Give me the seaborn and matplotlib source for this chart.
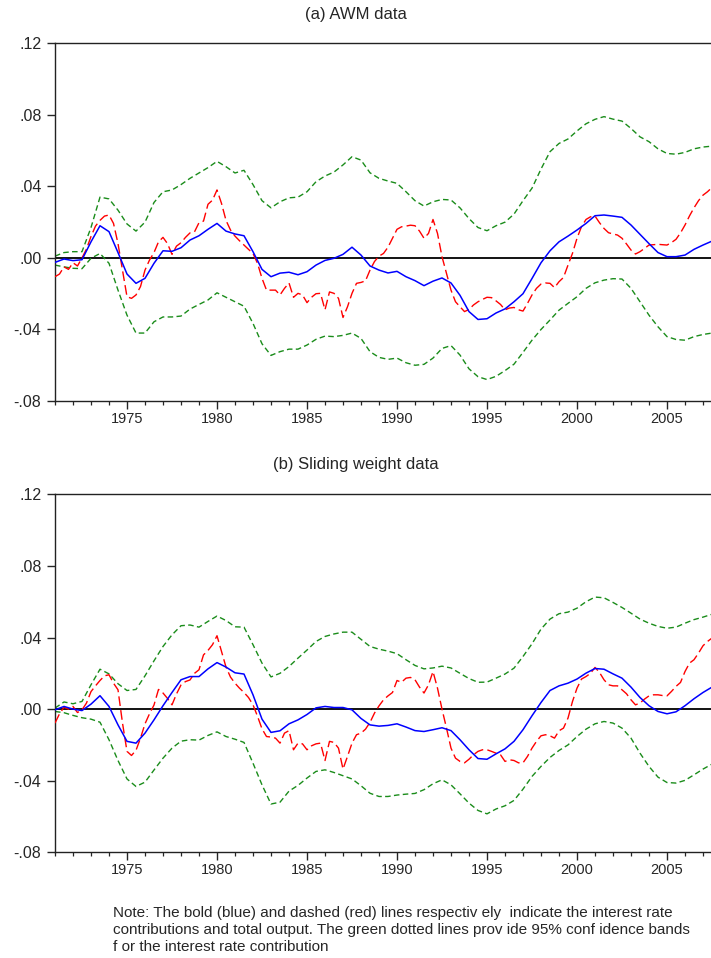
import numpy as np
import pandas as pd
import matplotlib
matplotlib.use("Agg")
import matplotlib.pyplot as plt
import seaborn as sns
from matplotlib.ticker import MultipleLocator, FuncFormatter

# --- Datos ---
# series suaves: cada medio ano 1971.0 .. 2007.5 ; producto total: trimestral 1971Q1 .. 2007Q4
half_years = np.arange(1971, 2007.75, 0.5)
quarters = np.arange(1971, 2008, 0.25)

# (a) AWM data
awm_upper = [
    0.001, 0.003, 0.0035, 0.0035, 0.017, 0.034, 0.033, 0.0267, 0.019, 0.015,
    0.020, 0.031, 0.037, 0.038, 0.041, 0.0445, 0.0475, 0.0505, 0.054, 0.051,
    0.0475, 0.049, 0.041, 0.032, 0.028, 0.0314, 0.0336, 0.034, 0.037, 0.0426,
    0.0458, 0.048, 0.052, 0.0566, 0.0547, 0.0476, 0.0445, 0.043, 0.0417, 0.037,
    0.032, 0.029, 0.0314, 0.0327, 0.0324, 0.028, 0.022, 0.017, 0.0152, 0.018,
    0.020, 0.0245, 0.032, 0.039, 0.0497, 0.0594, 0.064, 0.0665, 0.071, 0.075,
    0.0775, 0.079, 0.0776, 0.0765, 0.0724, 0.0677, 0.065, 0.061, 0.0584, 0.058,
    0.059, 0.061, 0.062, 0.0625,
]
awm_lower = [
    -0.004, -0.005, -0.0058, -0.006, -0.0002, 0.0025, -0.003, -0.018, -0.032, -0.042,
    -0.042, -0.0357, -0.033, -0.033, -0.0325, -0.0286, -0.026, -0.0235, -0.0195, -0.022,
    -0.0245, -0.027, -0.0366, -0.048, -0.0545, -0.0524, -0.051, -0.051, -0.0487, -0.0455,
    -0.0437, -0.044, -0.0433, -0.042, -0.045, -0.0524, -0.0556, -0.0567, -0.056, -0.0586,
    -0.060, -0.0595, -0.056, -0.0506, -0.049, -0.0543, -0.062, -0.0664, -0.068, -0.0662,
    -0.063, -0.0594, -0.0528, -0.046, -0.040, -0.0347, -0.0292, -0.0254, -0.0217, -0.017,
    -0.0139, -0.0124, -0.0116, -0.0118, -0.017, -0.0245, -0.032, -0.0385, -0.044, -0.0456,
    -0.046, -0.044, -0.0428, -0.042,
]
awm_contrib = [
    -0.0025, -0.0006, -0.0015, -0.001, 0.009, 0.018, 0.0147, 0.003, -0.009, -0.0142,
    -0.0114, -0.003, 0.004, 0.0037, 0.0057, 0.010, 0.0124, 0.016, 0.0193, 0.015,
    0.0134, 0.0124, 0.0035, -0.0064, -0.0105, -0.0085, -0.008, -0.0094, -0.0077, -0.004,
    -0.0014, -0.0002, 0.002, 0.006, 0.0016, -0.0045, -0.0068, -0.0084, -0.0075, -0.0105,
    -0.0127, -0.0155, -0.013, -0.0112, -0.014, -0.0209, -0.030, -0.0344, -0.034, -0.0308,
    -0.0285, -0.0245, -0.020, -0.0115, -0.0027, 0.004, 0.009, 0.0122, 0.0156, 0.0193,
    0.0236, 0.024, 0.0234, 0.0227, 0.0184, 0.0132, 0.008, 0.003, 0.0007, 0.0007,
    0.0016, 0.0048, 0.0072, 0.0094,
]
awm_output = [
    -0.0105, -0.009, -0.005, -0.0064,
    -0.0027, -0.0045, 0.0, 0.005,
    0.012, 0.0178, 0.021, 0.0234,
    0.024, 0.0193, 0.008, -0.0068,
    -0.0217, -0.0226, -0.0207, -0.016,
    -0.0068, -0.0012, 0.003, 0.009,
    0.0115, 0.008, 0.002, 0.0066,
    0.0085, 0.0115, 0.014, 0.0146,
    0.0197, 0.0206, 0.030, 0.0323,
    0.038, 0.0305, 0.021, 0.0156,
    0.0122, 0.0096, 0.0072, 0.0048,
    0.0025, -0.003, -0.0114, -0.018,
    -0.018, -0.018, -0.0207, -0.017,
    -0.014, -0.022, -0.0198, -0.0207,
    -0.025, -0.022, -0.020, -0.0198,
    -0.029, -0.019, -0.0198, -0.0226,
    -0.0333, -0.0273, -0.0198, -0.0142,
    -0.0137, -0.0128, -0.0068, -0.002,
    0.001, 0.0025, 0.006, 0.011,
    0.016, 0.0174, 0.0178, 0.0183,
    0.018, 0.015, 0.011, 0.0137,
    0.0215, 0.0137, 0.0007, -0.0086,
    -0.018, -0.0245, -0.0273, -0.030,
    -0.0288, -0.0263, -0.0245, -0.0232,
    -0.022, -0.0222, -0.024, -0.026,
    -0.029, -0.028, -0.0277, -0.029,
    -0.0297, -0.0254, -0.0207, -0.017,
    -0.0146, -0.014, -0.0142, -0.0166,
    -0.0133, -0.0109, -0.004, 0.0026,
    0.011, 0.0175, 0.0215, 0.023,
    0.0234, 0.0197, 0.0165, 0.0141,
    0.0134, 0.0128, 0.011, 0.0078,
    0.0044, 0.0022, 0.0035, 0.0053,
    0.0072, 0.0074, 0.0076, 0.0074,
    0.0072, 0.0086, 0.0104, 0.014,
    0.0184, 0.0235, 0.028, 0.032,
    0.0351, 0.037, 0.0394, 0.040,
]

# (b) Sliding weight data
sw_upper = [
    0.0006, 0.004, 0.003, 0.0043, 0.0136, 0.0223, 0.0197, 0.0142, 0.0104, 0.011,
    0.0186, 0.027, 0.035, 0.0415, 0.0466, 0.047, 0.0458, 0.049, 0.052, 0.0495,
    0.046, 0.0458, 0.036, 0.0257, 0.018, 0.020, 0.0238, 0.0285, 0.033, 0.0378,
    0.0406, 0.042, 0.043, 0.043, 0.039, 0.035, 0.0335, 0.0324, 0.031, 0.0276,
    0.0244, 0.0225, 0.023, 0.024, 0.023, 0.020, 0.0171, 0.015, 0.0151, 0.0173,
    0.0196, 0.0229, 0.0294, 0.0365, 0.0447, 0.0503, 0.0533, 0.0542, 0.0564, 0.060,
    0.0626, 0.0622, 0.0596, 0.0568, 0.0536, 0.0503, 0.048, 0.0462, 0.0452, 0.0458,
    0.048, 0.050, 0.0514, 0.053,
]
sw_lower = [
    -0.0013, -0.002, -0.0035, -0.0048, -0.0056, -0.0073, -0.0171, -0.0287, -0.039, -0.0432,
    -0.0408, -0.034, -0.0274, -0.0218, -0.0179, -0.0171, -0.0173, -0.0147, -0.0127, -0.0153,
    -0.0168, -0.0186, -0.0302, -0.0423, -0.053, -0.052, -0.0458, -0.0426, -0.0385, -0.0348,
    -0.0339, -0.0354, -0.0372, -0.039, -0.0428, -0.047, -0.0488, -0.0488, -0.048, -0.0475,
    -0.0471, -0.045, -0.0417, -0.0395, -0.0423, -0.0473, -0.0525, -0.0566, -0.0585, -0.0558,
    -0.054, -0.051, -0.0447, -0.0376, -0.032, -0.027, -0.0231, -0.020, -0.0153, -0.0112,
    -0.0082, -0.0069, -0.0078, -0.0106, -0.0162, -0.0246, -0.032, -0.038, -0.041, -0.0413,
    -0.0398, -0.0367, -0.0335, -0.0307,
]
sw_contrib = [
    -0.0004, 0.0015, 0.0, -0.0008, 0.0028, 0.0075, 0.0015, -0.0088, -0.018, -0.019,
    -0.0134, -0.006, 0.0019, 0.0093, 0.0164, 0.0182, 0.0182, 0.0225, 0.026, 0.0235,
    0.0203, 0.0196, 0.008, -0.0056, -0.013, -0.0121, -0.0082, -0.006, -0.003, 0.0007,
    0.0015, 0.0009, 0.0009, -0.0004, -0.0052, -0.0088, -0.0095, -0.0091, -0.0082, -0.010,
    -0.012, -0.0125, -0.0115, -0.0104, -0.012, -0.0171, -0.0227, -0.0276, -0.028, -0.025,
    -0.0222, -0.018, -0.0115, -0.0037, 0.0037, 0.0104, 0.013, 0.0145, 0.0168, 0.0201,
    0.0227, 0.0223, 0.0197, 0.0173, 0.0123, 0.0065, 0.0019, -0.0013, -0.0026, -0.0015,
    0.0019, 0.0058, 0.0093, 0.0123,
]
sw_output = [
    -0.0078, -0.0026, 0.001, 0.0,
    0.0015, -0.0019, -0.0004, 0.0034,
    0.0098, 0.013, 0.016, 0.0186,
    0.0192, 0.0145, 0.0108, -0.0078,
    -0.0236, -0.0259, -0.023, -0.0162,
    -0.0082, -0.0026, 0.0023, 0.011,
    0.009, 0.006, 0.0024, 0.0085,
    0.0135, 0.0154, 0.0163, 0.020,
    0.022, 0.0303, 0.0328, 0.036,
    0.041, 0.0322, 0.0235, 0.0179,
    0.0145, 0.0117, 0.0093, 0.0065,
    0.0024, -0.004, -0.011, -0.0153,
    -0.0156, -0.0162, -0.019, -0.0134,
    -0.012, -0.0227, -0.019, -0.0194,
    -0.0227, -0.0205, -0.0194, -0.019,
    -0.0287, -0.018, -0.0186, -0.0218,
    -0.0335, -0.0264, -0.019, -0.0143,
    -0.0134, -0.0112, -0.0074, -0.0022,
    0.0018, 0.0052, 0.0074, 0.0093,
    0.016, 0.015, 0.0173, 0.0177,
    0.0164, 0.0123, 0.009, 0.0136,
    0.021, 0.0117, 0.0, -0.0106,
    -0.0218, -0.0274, -0.0292, -0.030,
    -0.028, -0.0255, -0.0236, -0.0227,
    -0.0227, -0.0236, -0.0246, -0.0255,
    -0.0292, -0.0283, -0.0287, -0.030,
    -0.030, -0.0264, -0.0218, -0.018,
    -0.0149, -0.0143, -0.0149, -0.0162,
    -0.0121, -0.0106, -0.005, 0.0043,
    0.0117, 0.0168, 0.0182, 0.020,
    0.0233, 0.0205, 0.0164, 0.0136,
    0.013, 0.013, 0.0108, 0.0086,
    0.0052, 0.0024, 0.0034, 0.0056,
    0.0074, 0.008, 0.008, 0.0076,
    0.0074, 0.0099, 0.0127, 0.0149,
    0.021, 0.0257, 0.0276, 0.0313,
    0.0354, 0.0378, 0.0397, 0.040,
]

panel_titles = ["(a) AWM data", "(b) Sliding weight data"]
note = ("Note: The bold (blue) and dashed (red) lines respectiv ely  indicate the interest rate\n"
        "contributions and total output. The green dotted lines prov ide 95% conf idence bands\n"
        "f or the interest rate contribution")

# --- Estilo ---
sns.set_style("white")
plt.rcParams["font.family"] = ["Liberation Sans", "DejaVu Sans"]

BLUE = "#0000ff"
RED = "#ff0000"
GREEN = "#1a8c1a"


def fmt_y(v, pos):
    v = round(v, 4)
    if v == 0:
        return ".00"
    s = f"{v:.2f}"
    return s.replace("0.", ".")


def draw_panel(ax, contrib, output, upper, lower):
    """Dibuja un panel: contribucion, producto total y bandas de 95%."""
    df_h = pd.DataFrame({"date": half_years, "contrib": contrib,
                         "upper": upper, "lower": lower})
    df_q = pd.DataFrame({"date": quarters, "output": output})

    ax.axhline(0, color="black", lw=1.3, zorder=1)
    sns.lineplot(data=df_h, x="date", y="upper", ax=ax, color=GREEN, lw=1.0,
                 linestyle=(0, (4, 2.4)), zorder=2)
    sns.lineplot(data=df_h, x="date", y="lower", ax=ax, color=GREEN, lw=1.0,
                 linestyle=(0, (4, 2.4)), zorder=2)
    sns.lineplot(data=df_q, x="date", y="output", ax=ax, color=RED, lw=1.0,
                 linestyle=(0, (7, 3)), zorder=3)
    sns.lineplot(data=df_h, x="date", y="contrib", ax=ax, color=BLUE, lw=1.1,
                 zorder=4)

    ax.set_xlim(1971, 2007.75)
    ax.set_ylim(-0.08, 0.12)
    ax.xaxis.set_major_locator(MultipleLocator(5))
    ax.xaxis.set_minor_locator(MultipleLocator(1))
    ax.yaxis.set_major_locator(MultipleLocator(0.04))
    ax.yaxis.set_major_formatter(FuncFormatter(fmt_y))
    ax.set_xlabel("")
    ax.set_ylabel("")
    ax.tick_params(axis="x", which="major", direction="out", length=5.8, width=1,
                   labelsize=10.5, pad=2, bottom=True)
    ax.tick_params(axis="x", which="minor", direction="out", length=3, width=0.9,
                   bottom=True)
    ax.tick_params(axis="y", which="major", direction="out", length=5.8, width=1,
                   labelsize=11.5, pad=4, left=True)
    for side in ["left", "bottom", "top"]:
        ax.spines[side].set_color("#222222")
        ax.spines[side].set_linewidth(1.0)
    ax.spines["right"].set_visible(False)


fig = plt.figure(figsize=(7.11, 9.58), dpi=100)
ax_a = fig.add_axes([55 / 711, 0.5814, 661.5 / 711, 0.3734])
ax_b = fig.add_axes([55 / 711, 0.1103, 661.5 / 711, 0.3737])

draw_panel(ax_a, awm_contrib, awm_output, awm_upper, awm_lower)
draw_panel(ax_b, sw_contrib, sw_output, sw_upper, sw_lower)

fig.text(0.5, 1 - 15 / 958, panel_titles[0], ha="center", va="center", fontsize=12)
fig.text(0.5, 1 - 465 / 958, panel_titles[1], ha="center", va="center", fontsize=12)
fig.text(113 / 711, 1 - 906 / 958, note, ha="left", va="top", fontsize=11,
         linespacing=1.26)

fig.savefig("out.png", dpi=100)
